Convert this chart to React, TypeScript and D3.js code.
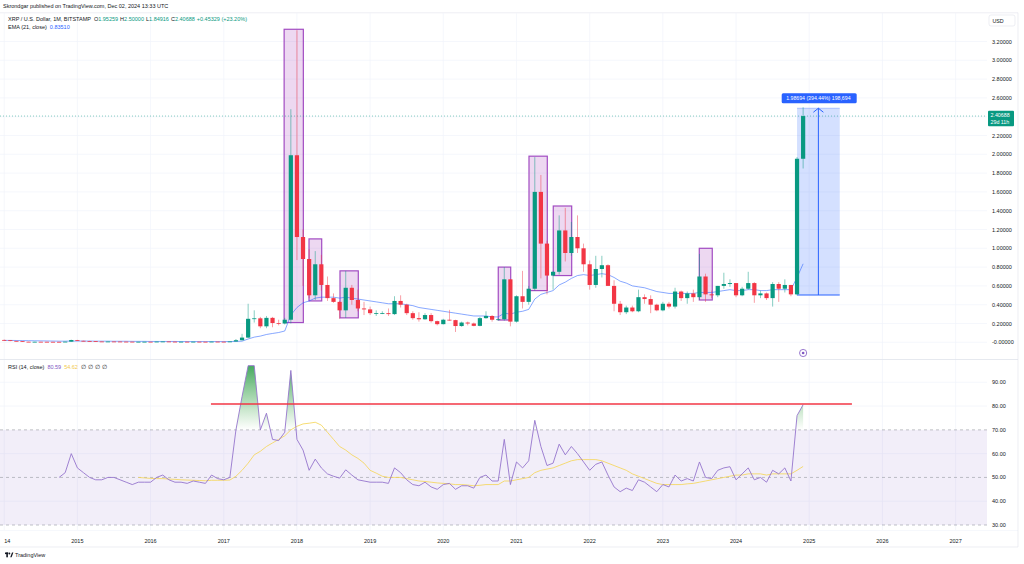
import React from 'react';
import * as d3 from 'd3';

// month index 0 = Jan 2014
const yearLabels = ['2014','2015','2016','2017','2018','2019','2020','2021','2022','2023','2024','2025','2026','2027'];

const opens = [
  0.025,0.022,0.015,0.013,0.006,0.005,0.0058,0.0055,0.0052,0.0051,0.005,0.0068,
  0.024,0.016,0.014,0.012,0.0088,0.0076,0.0085,0.008,0.007,0.0065,0.0054,0.0058,
  0.006,0.0058,0.0075,0.0086,0.0069,0.0062,0.0063,0.0058,0.0064,0.006,0.0056,0.0071,
  0.0064,0.0063,0.0088,0.022,0.05,0.25,0.255,0.17,0.26,0.205,0.20,0.24,
  1.99,1.12,0.886,0.50,0.83,0.61,0.47,0.43,0.34,0.58,0.45,0.36,
  0.35,0.31,0.31,0.31,0.30,0.44,0.40,0.31,0.257,0.245,0.29,0.225,
  0.193,0.24,0.236,0.173,0.21,0.20,0.175,0.257,0.28,0.24,0.245,0.67,
  0.22,0.49,0.43,0.57,1.60,1.05,0.71,0.75,1.19,0.95,1.12,1.00,
  0.83,0.61,0.78,0.82,0.60,0.41,0.32,0.37,0.33,0.48,0.46,0.40,
  0.34,0.41,0.38,0.54,0.47,0.52,0.48,0.70,0.51,0.50,0.60,0.62,
  0.63,0.50,0.57,0.63,0.50,0.52,0.47,0.62,0.57,0.61,0.51,1.95259
];
const highs = [
  0.030,0.024,0.016,0.014,0.007,0.0065,0.0065,0.006,0.0058,0.0055,0.0075,0.028,
  0.026,0.017,0.015,0.013,0.0093,0.0095,0.009,0.0085,0.0075,0.0067,0.0062,0.0065,
  0.0065,0.0085,0.0095,0.009,0.0072,0.007,0.0068,0.007,0.0066,0.0062,0.009,0.0075,
  0.0075,0.0095,0.035,0.09,0.41,0.34,0.27,0.28,0.27,0.24,0.26,2.48,
  3.32,1.20,0.99,0.97,0.93,0.70,0.52,0.44,0.76,0.61,0.56,0.43,
  0.38,0.34,0.33,0.36,0.49,0.50,0.41,0.33,0.32,0.31,0.31,0.23,
  0.25,0.345,0.24,0.22,0.22,0.21,0.27,0.33,0.29,0.26,0.80,0.67,
  0.50,0.76,0.60,1.97,1.78,1.08,0.76,1.35,1.43,1.28,1.35,1.05,
  0.87,0.92,0.92,0.83,0.66,0.44,0.39,0.39,0.56,0.51,0.50,0.41,
  0.43,0.43,0.58,0.55,0.54,0.56,0.94,0.73,0.55,0.60,0.74,0.67,
  0.63,0.59,0.75,0.64,0.55,0.53,0.64,0.64,0.67,0.61,1.97,2.50
];
const lows = [
  0.020,0.012,0.010,0.005,0.0045,0.004,0.005,0.0045,0.0045,0.0045,0.0048,0.0065,
  0.014,0.011,0.011,0.008,0.007,0.0074,0.0075,0.006,0.0058,0.005,0.0043,0.005,
  0.0055,0.0055,0.007,0.0063,0.0058,0.0055,0.0055,0.0055,0.0056,0.0054,0.0055,0.006,
  0.006,0.0058,0.0085,0.02,0.045,0.21,0.15,0.15,0.16,0.18,0.19,0.20,
  0.875,0.60,0.47,0.45,0.55,0.44,0.42,0.25,0.26,0.40,0.33,0.29,
  0.29,0.28,0.30,0.28,0.29,0.37,0.29,0.24,0.22,0.24,0.21,0.18,
  0.19,0.23,0.11,0.165,0.18,0.17,0.17,0.25,0.22,0.23,0.23,0.17,
  0.21,0.36,0.40,0.55,0.68,0.51,0.56,0.72,0.86,0.92,0.95,0.75,
  0.56,0.58,0.69,0.60,0.33,0.29,0.30,0.32,0.32,0.41,0.31,0.33,
  0.33,0.36,0.36,0.44,0.41,0.43,0.45,0.43,0.47,0.48,0.57,0.59,
  0.48,0.49,0.56,0.42,0.47,0.45,0.38,0.43,0.53,0.49,0.50,1.84916
];
const closes = [
  0.022,0.015,0.013,0.006,0.005,0.0058,0.0055,0.0052,0.0051,0.005,0.0068,0.024,
  0.016,0.014,0.012,0.0088,0.0076,0.0085,0.008,0.007,0.0065,0.0054,0.0058,0.006,
  0.0058,0.0075,0.0086,0.0069,0.0062,0.0063,0.0058,0.0064,0.006,0.0056,0.0071,0.0064,
  0.0063,0.0088,0.022,0.05,0.25,0.255,0.17,0.26,0.205,0.20,0.24,1.99,
  1.12,0.886,0.50,0.83,0.61,0.47,0.43,0.34,0.58,0.45,0.36,0.35,
  0.31,0.31,0.31,0.30,0.44,0.40,0.31,0.257,0.245,0.29,0.225,0.193,
  0.24,0.236,0.173,0.21,0.20,0.175,0.257,0.28,0.24,0.245,0.67,0.22,
  0.49,0.43,0.57,1.60,1.05,0.71,0.75,1.19,0.95,1.12,1.00,0.83,
  0.61,0.78,0.82,0.60,0.41,0.32,0.37,0.33,0.48,0.46,0.40,0.34,
  0.41,0.38,0.54,0.47,0.52,0.48,0.70,0.51,0.50,0.60,0.62,0.63,
  0.50,0.57,0.63,0.50,0.52,0.47,0.62,0.57,0.61,0.51,1.95259,2.40688
];
const ema21 = [
  0.02,0.02,0.019,0.018,0.017,0.016,0.015,0.014,0.013,0.012,0.012,0.013,
  0.013,0.013,0.013,0.012,0.012,0.012,0.011,0.011,0.011,0.010,0.010,0.010,
  0.009,0.009,0.009,0.009,0.009,0.008,0.008,0.008,0.008,0.008,0.008,0.008,
  0.008,0.008,0.009,0.012,0.035,0.055,0.066,0.083,0.094,0.104,0.12,0.29,
  0.37,0.42,0.44,0.47,0.48,0.48,0.48,0.47,0.48,0.47,0.46,0.45,
  0.44,0.43,0.42,0.41,0.41,0.41,0.40,0.39,0.37,0.36,0.35,0.34,
  0.33,0.32,0.31,0.30,0.29,0.28,0.28,0.28,0.27,0.27,0.31,0.30,
  0.32,0.33,0.35,0.46,0.51,0.53,0.55,0.61,0.64,0.68,0.71,0.72,
  0.71,0.72,0.73,0.72,0.69,0.65,0.63,0.60,0.59,0.58,0.56,0.54,
  0.53,0.52,0.52,0.52,0.52,0.52,0.53,0.53,0.53,0.54,0.55,0.56,
  0.55,0.55,0.56,0.56,0.55,0.55,0.56,0.56,0.56,0.56,0.69,0.835
];

const rsiStart = 9; // Oct 2014
const rsi14 = [
  50,52,60,
  54,52,50,49,49,50,50,49,48,47,48,48,
  48,50,51,49,48,48,47.5,48.5,48,47.5,51,49.5,
  49,50,70,84,97,97,70,77,66,65.5,69,95,
  66,61.5,53,57.7,54,51.5,50.5,49.7,53.2,51,49,48.5,
  48,48,48,47.5,54,52,49,47,46.5,48,46,45,
  47,47.5,45,46.5,46.5,45.5,50,51,48.5,48.5,66,47,
  56.5,54,57,74,63,55,56,64,59.5,63,60,56.5,
  53,55.5,56.5,51,46,44,45.5,44.5,49,48,46,44,
  47,46,51,48.5,49.5,48.5,56.5,50,49.5,53,54,54.5,
  49,51.5,54,49,50,48,53,51.5,54,48.5,76,80.59
];
const maStart = 22; // Nov 2015
const rsiMa = [
  50,49.8,
  49.6,49.5,49.5,49.3,49.2,49,48.9,48.8,48.7,48.6,48.8,48.8,
  48.8,48.9,50.5,53,56,59.5,61,63,64.5,66,67.5,70,
  71.5,72.5,72.8,73.2,72,69,66,63,61.5,59.5,58,56,
  53,51.8,50.5,50,50,50,49.5,49,48.5,48.3,48,47.7,
  47.5,47.3,47,47,46.8,46.5,46.7,47,47,47,48.5,48.5,
  49,49.5,50,52,53,53.5,54,55,56,57,57.5,57.5,
  57.5,57.5,57,56,55,54,53,51.5,50.5,49.5,48.5,47.5,
  47,47,47,47,47.3,47.5,48,48.5,49,49.5,50,50.5,
  51,51,51.5,51.5,51.5,51,51.5,51.5,51.5,51.5,53,54.62
];

const priceTicks = [0,0.2,0.4,0.6,0.8,1.0,1.2,1.4,1.6,1.8,2.0,2.2,2.6,2.8,3.0,3.2];
const priceGrid = [0,0.2,0.4,0.6,0.8,1.0,1.2,1.4,1.6,1.8,2.0,2.2,2.4,2.6,2.8,3.0,3.2];
const rsiTicks = [30,40,50,60,70,80,90];

// user-drawn highlight rectangles (month index, price)
const boxStart = [45.9, 49.98, 55.06, 81.01, 86.05, 90.03, 113.97];
const boxEnd = [49.05, 52.06, 58.06, 83.05, 89.05, 93.05, 116.1];
const boxTop = [3.33, 1.10, 0.76, 0.80, 1.98, 1.45, 1.0];
const boxBottom = [0.21, 0.44, 0.26, 0.237, 0.55, 0.71, 0.45];

// measure tool
const measureFrom = 130, measureTo = 137, measureLow = 0.50306, measureHigh = 2.49;
const lastPrice = 2.40688;
const rsiLevelLine = { from: 33.9, to: 139, value: 80.9 };

const GREEN = '#089981';
const RED = '#f23645';
const FONT = "'Liberation Sans', Arial, sans-serif";

export default function App() {
  const paneR = 987;
  const x = d3.scaleLinear().domain([0, 156]).range([4.2, 955.6]);
  const y = d3.scaleLinear().domain([0, 3.2]).range([342.3, 41.5]);
  const yr = d3.scaleLinear().domain([30, 90]).range([525, 382.3]);
  const bw = 4.2;
  const yearIdx = yearLabels.map((_, k) => k * 12);

  const emaPts = ema21.map((v, i) => [x(i), y(v)] as [number, number]);
  const emaPath = d3.line()(emaPts);

  const rsiPts = rsi14.map((v, k) => ({ i: rsiStart + k, v }));
  const maPts = rsiMa.map((v, k) => ({ i: maStart + k, v }));
  const rsiLine = d3.line<{ i: number; v: number }>().x(d => x(d.i)).y(d => yr(d.v));
  const obArea = d3.area<{ i: number; v: number }>().x(d => x(d.i)).y0(yr(70)).y1(d => yr(d.v));

  const fmt = (v: number) => (v === 0 ? '-0.00000' : v.toFixed(5));
  const mid = x((measureFrom + measureTo) / 2);

  return (
    <svg width={1024} height={564} style={{ position: 'absolute', left: 0, top: 0, background: '#fff' }} fontFamily={FONT}>
      <defs>
        <linearGradient id="obGrad" gradientUnits="userSpaceOnUse" x1="0" x2="0" y1={yr(100)} y2={yr(70)}>
          <stop offset="0" stopColor="#2e9e4f" stopOpacity={1} />
          <stop offset="1" stopColor="#4caf50" stopOpacity={0} />
        </linearGradient>
        <clipPath id="obClip"><rect x={0} y={360} width={paneR} height={yr(70) - 360} /></clipPath>
        <clipPath id="priceClip"><rect x={0} y={13} width={paneR} height={346} /></clipPath>
        <clipPath id="rsiClip"><rect x={0} y={360} width={paneR} height={170} /></clipPath>
      </defs>
      <rect x={0} y={0} width={1024} height={564} fill="#fff" />

      {/* header */}
      <text x={3} y={8} fontSize={5.5} fill="#131722">Skrondgar published on TradingView.com, Dec 02, 2024 13:33 UTC</text>
      <line x1={0} x2={1018} y1={12.8} y2={12.8} stroke="#e0e3eb" strokeWidth={0.6} />

      {/* grids */}
      <g stroke="#f0f3fa" strokeWidth={0.7}>
        {priceGrid.map(v => <line key={'pg' + v} x1={0} x2={paneR} y1={y(v)} y2={y(v)} />)}
        {[40, 60, 80, 90].map(v => <line key={'rg' + v} x1={0} x2={paneR} y1={yr(v)} y2={yr(v)} />)}
        {yearIdx.map(i => <line key={'vg' + i} x1={x(i)} x2={x(i)} y1={13} y2={530} />)}
      </g>

      {/* highlight boxes */}
      <g clipPath="url(#priceClip)">
        {boxStart.map((s, k) => (
          <rect key={'bx' + k} x={x(s)} y={y(boxTop[k])} width={x(boxEnd[k]) - x(s)} height={y(boxBottom[k]) - y(boxTop[k])}
            fill="rgba(156,39,176,0.18)" stroke="#a24cc2" strokeWidth={1.2} />
        ))}
      </g>

      {/* measure box */}
      <rect x={x(measureFrom)} y={y(measureHigh)} width={x(measureTo) - x(measureFrom)} height={y(measureLow) - y(measureHigh)} fill="rgba(41,98,255,0.2)" />
      <line x1={x(measureFrom)} x2={x(measureTo)} y1={y(measureLow)} y2={y(measureLow)} stroke="#2962ff" strokeWidth={1} />
      <line x1={x(measureFrom)} x2={x(measureTo)} y1={y(measureHigh)} y2={y(measureHigh)} stroke="#2962ff" strokeWidth={0.6} opacity={0.5} />
      <line x1={mid} x2={mid} y1={y(measureLow)} y2={y(measureHigh)} stroke="#2962ff" strokeWidth={1} />
      <path d={`M${mid - 5},${y(measureHigh) + 4} L${mid},${y(measureHigh)} L${mid + 5},${y(measureHigh) + 4}`} fill="none" stroke="#2962ff" strokeWidth={1} />

      {/* last price line */}
      <line x1={0} x2={paneR} y1={y(lastPrice)} y2={y(lastPrice)} stroke={GREEN} strokeWidth={0.7} strokeDasharray="1,2" opacity={0.7} />

      <g clipPath="url(#priceClip)">
        <path d={emaPath || ''} fill="none" stroke="#2962ff" strokeWidth={0.8} opacity={0.7} />
        {opens.map((o, i) => {
          const c = closes[i];
          const up = c >= o;
          const col = up ? GREEN : RED;
          const top = y(Math.max(o, c));
          const h = Math.max(0.8, y(Math.min(o, c)) - top);
          return (
            <g key={'c' + i}>
              <line x1={x(i)} x2={x(i)} y1={y(highs[i])} y2={y(lows[i])} stroke={col} strokeWidth={0.8} opacity={0.6} />
              <rect x={x(i) - bw / 2} y={top} width={bw} height={h} fill={col} />
            </g>
          );
        })}
      </g>

      {/* measure label */}
      <rect x={781.7} y={y(measureHigh) - 15} width={75} height={10} rx={1.5} fill="#2962ff" />
      <text x={mid} y={y(measureHigh) - 8.2} fontSize={5.2} fill="#fff" textAnchor="middle">1.98694 (394.44%) 198,694</text>

      {/* event marker */}
      <circle cx={x(131)} cy={353} r={3.6} fill="#fff" stroke="#7e57c2" strokeWidth={0.8} />
      <circle cx={x(131)} cy={353} r={1.3} fill="#7e57c2" />

      {/* legend */}
      <text x={8} y={21.3} fontSize={5.5} fill="#131722">
        XRP / U.S. Dollar, 1M, BITSTAMP
        <tspan dx={3}>O</tspan><tspan fill={GREEN}>1.95259</tspan>
        <tspan dx={2}>H</tspan><tspan fill={GREEN}>2.50000</tspan>
        <tspan dx={2}>L</tspan><tspan fill={GREEN}>1.84916</tspan>
        <tspan dx={2}>C</tspan><tspan fill={GREEN}>2.40688</tspan>
        <tspan dx={2} fill={GREEN}>+0.45329 (+23.20%)</tspan>
      </text>
      <text x={8} y={29.3} fontSize={5.5} fill="#131722">
        EMA (21, close)<tspan dx={3} fill="#2962ff">0.83510</tspan>
      </text>

      {/* pane separators */}
      <line x1={0} x2={1018} y1={359.5} y2={359.5} stroke="#e0e3eb" strokeWidth={0.8} />
      <line x1={0} x2={1018} y1={530.5} y2={530.5} stroke="#f0f3fa" strokeWidth={0.6} />
      <line x1={0} x2={1018} y1={547} y2={547} stroke="#e0e3eb" strokeWidth={0.6} />
      <line x1={1018} x2={1018} y1={12.8} y2={547} stroke="#e0e3eb" strokeWidth={0.6} />

      {/* RSI pane */}
      <rect x={0} y={yr(70)} width={paneR} height={yr(30) - yr(70)} fill="rgba(126,87,194,0.1)" />
      {[70, 50, 30].map(v => (
        <line key={'rl' + v} x1={0} x2={paneR} y1={yr(v)} y2={yr(v)} stroke="#9598a1" strokeWidth={0.6} strokeDasharray="3,3" />
      ))}
      <g clipPath="url(#rsiClip)">
        <path d={obArea(rsiPts) || ''} fill="url(#obGrad)" clipPath="url(#obClip)" />
        <path d={rsiLine(maPts) || ''} fill="none" stroke="#f5d451" strokeWidth={0.8} />
        <path d={rsiLine(rsiPts) || ''} fill="none" stroke="#9575cd" strokeWidth={0.9} />
      </g>
      <line x1={x(rsiLevelLine.from)} x2={x(rsiLevelLine.to)} y1={yr(rsiLevelLine.value)} y2={yr(rsiLevelLine.value)} stroke={RED} strokeWidth={1.6} />
      <text x={8} y={369.2} fontSize={5.5} fill="#131722">
        RSI (14, close)<tspan dx={3} fill="#7e57c2">80.59</tspan><tspan dx={3} fill="#f2c94c">54.62</tspan>
        <tspan dx={3} fill="#131722">∅</tspan><tspan dx={2}>∅</tspan><tspan dx={2}>∅</tspan><tspan dx={2}>∅</tspan>
      </text>

      {/* price axis */}
      <rect x={989} y={15} width={26} height={11} rx={2} fill="#fff" stroke="#e0e3eb" strokeWidth={0.6} />
      <text x={992.5} y={22.5} fontSize={5.3} fill="#131722">USD</text>
      {priceTicks.map(v => (
        <text key={'pt' + v} x={992} y={y(v) + 2} fontSize={5.5} fill="#131722">{fmt(v)}</text>
      ))}
      {rsiTicks.map(v => (
        <text key={'rt' + v} x={992} y={yr(v) + 2} fontSize={5.5} fill="#131722">{v.toFixed(2)}</text>
      ))}
      <rect x={988} y={110.8} width={26} height={15.4} rx={1} fill={GREEN} />
      <text x={990.5} y={117.2} fontSize={5.3} fill="#fff">{lastPrice.toFixed(5)}</text>
      <text x={990.5} y={123.8} fontSize={5.3} fill="#fff">29d 11h</text>

      {/* time axis (first year label is scrolled off the left edge; only its last digits show) */}
      {yearLabels.map((lab, k) => (
        k === 0
          ? <text key={'yl' + lab} x={4.2} y={543} fontSize={5.5} fill="#131722" textAnchor="start">{lab.slice(2)}</text>
          : <text key={'yl' + lab} x={x(yearIdx[k])} y={543} fontSize={5.5} fill="#131722" textAnchor="middle">{lab}</text>
      ))}

      {/* logo */}
      <g fill="#131722">
        <rect x={5} y={552.5} width={3.2} height={1.6} />
        <rect x={6.3} y={552.5} width={1.6} height={4.8} />
        <circle cx={9.4} cy={553.5} r={0.9} />
        <path d="M10.2,557.3 L12,552.5 L13.4,552.5 L11.6,557.3 Z" />
      </g>
      <text x={15} y={557} fontSize={5.5} fill="#131722">TradingView</text>
    </svg>
  );
}
